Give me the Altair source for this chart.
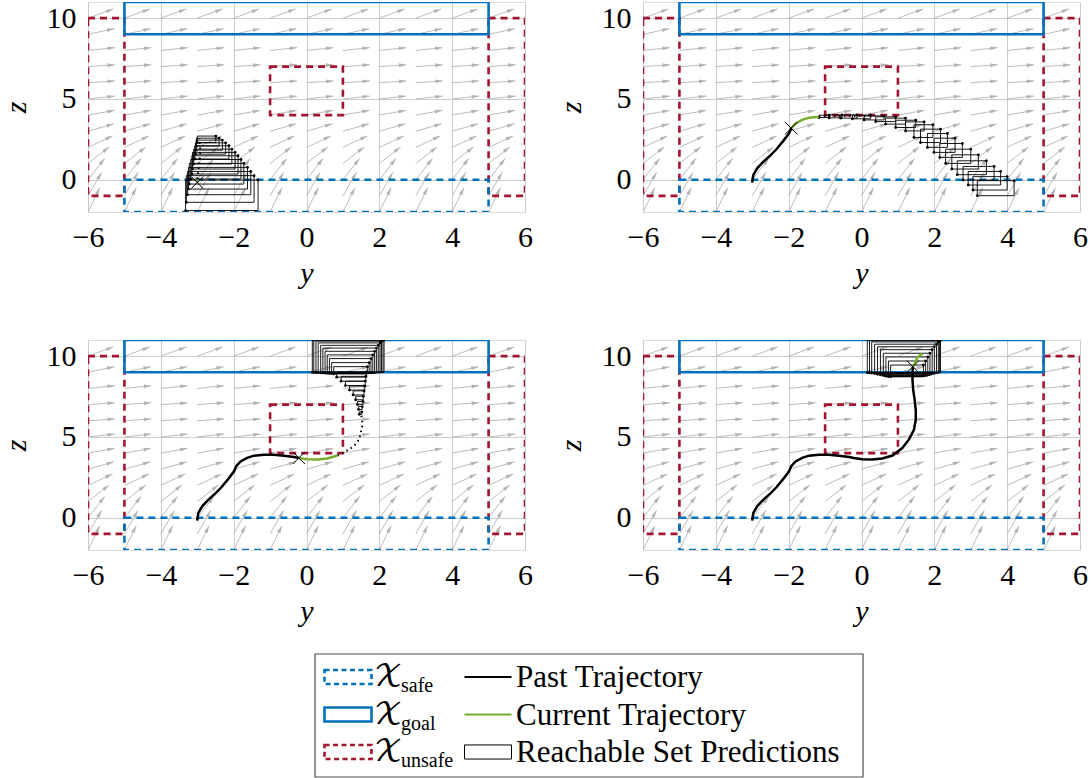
import math
import altair as alt
import pandas as pd

# ---------------- data ----------------
FIELD_Y = [-6, -5, -4, -3, -2, -1, 0, 1, 2, 3, 4, 5, 6]
FIELD_Z = [-2, -1, 0, 1, 2, 3, 4, 5, 6, 7, 8, 9, 10, 11]
FIELD_ANGLE = [64, 60, 52, 38, 25, 16, 10, 6, 4, 4, 6, 12, 20, 22]   # arrow direction per row (deg)

SET_KIND = ["safe", "goal", "unsafe", "unsafe", "unsafe"]
SET_Y0 = [-5, -5, -6, 5, -1]
SET_Y1 = [5, 5, -5, 6, 1]
SET_Z0 = [-2, 9, -1, -1, 4]
SET_Z1 = [0, 11, 10, 10, 7]

TRAJ_Y = [-3.00, -2.99, -2.97, -2.86, -2.70, -2.50, -2.33, -2.13, -1.99, -1.93,
          -1.81, -1.63, -1.44, -1.17, -0.89, -0.62, -0.34, -0.21, 0.02, 0.30,
          0.57, 0.85, 1.12, 1.30, 1.44, 1.49, 1.49, 1.46, 1.42, 1.40,
          1.40, 1.41, 1.47, 1.53, 1.67]
TRAJ_Z = [-0.18, 0.02, 0.30, 0.72, 1.10, 1.50, 1.90, 2.45, 2.87, 3.19,
          3.48, 3.70, 3.84, 3.90, 3.90, 3.84, 3.76, 3.70, 3.62, 3.60,
          3.66, 3.85, 4.31, 4.83, 5.44, 6.06, 6.67, 7.29, 7.91, 8.52,
          8.93, 9.35, 9.59, 9.92, 10.17]
PANEL_X_IDX = [0, 9, 17, 31]     # position marked with a cross
PANEL_END_IDX = [1, 13, 21, 34]  # end of the current trajectory

PRED_Y = [[-3.00, -2.97, -2.94, -2.92, -2.92, -2.95],
          [-1.17, -0.90, -0.53, -0.16, 0.20],
          [0.85, 0.94, 1.12, 1.30, 1.44, 1.49, 1.53, 1.53, 1.49],
          []]
PRED_Z = [[0.05, 0.60, 1.10, 1.60, 2.10, 2.55],
          [3.90, 3.93, 3.95, 3.95, 3.91],
          [3.85, 3.96, 4.17, 4.42, 4.83, 5.24, 5.65, 6.06, 6.47],
          []]

BOX_Y0 = [
    [-3.32, -3.30, -3.27, -3.24, -3.22, -3.18, -3.15, -3.13, -3.10, -3.07, -3.05, -3.03, -3.02, -3.00],
    [-1.17, -0.89, -0.57, -0.25, 0.07, 0.39, 0.66, 0.94, 1.21, 1.44, 1.62, 1.81, 1.99, 2.15, 2.31, 2.48, 2.63, 2.79, 2.93, 3.06, 3.18],
    [1.45, 1.43, 1.40, 1.35, 1.28, 1.18, 1.07, 0.95, 0.83, 0.75, 0.69, 0.63, 0.57, 0.51, 0.45, 0.39, 0.32, 0.26, 0.20, 0.16],
    [0.80, 0.74, 0.67, 0.60, 0.52, 0.44, 0.36, 0.28, 0.22, 0.16],
]
BOX_Y1 = [
    [-1.33, -1.44, -1.53, -1.62, -1.72, -1.80, -1.88, -1.96, -2.05, -2.13, -2.22, -2.31, -2.40, -2.49],
    [-0.89, -0.53, -0.12, 0.25, 0.62, 0.94, 1.21, 1.49, 1.72, 1.96, 2.17, 2.36, 2.57, 2.77, 3.00, 3.21, 3.43, 3.64, 3.82, 4.00, 4.19],
    [1.52, 1.53, 1.55, 1.56, 1.58, 1.60, 1.61, 1.63, 1.65, 1.67, 1.72, 1.77, 1.82, 1.87, 1.92, 1.97, 2.02, 2.06, 2.10, 2.13],
    [1.70, 1.76, 1.82, 1.88, 1.94, 2.00, 2.06, 2.11, 2.14, 2.17],
]
BOX_Z0 = [
    [-1.91, -1.40, -0.93, -0.58, -0.27, 0.04, 0.35, 0.66, 0.97, 1.28, 1.58, 1.83, 2.08, 2.30],
    [3.85, 3.83, 3.81, 3.77, 3.70, 3.60, 3.44, 3.23, 3.02, 2.61, 2.30, 2.00, 1.69, 1.38, 1.01, 0.66, 0.31, -0.02, -0.33, -0.64, -0.99],
    [6.40, 6.70, 7.00, 7.30, 7.60, 7.90, 8.18, 8.45, 8.70, 8.90, 8.92, 8.93, 8.94, 8.95, 8.96, 8.97, 8.98, 8.99, 9.00, 9.00],
    [8.72, 8.74, 8.76, 8.80, 8.84, 8.88, 8.92, 8.95, 8.97, 8.98],
]
BOX_Z1 = [
    [-0.02, 0.25, 0.51, 0.76, 1.01, 1.25, 1.48, 1.69, 1.89, 2.10, 2.28, 2.45, 2.57, 2.70],
    [3.99, 4.01, 4.01, 3.99, 3.95, 3.89, 3.81, 3.68, 3.58, 3.40, 3.13, 2.86, 2.57, 2.24, 1.89, 1.54, 1.17, 0.82, 0.51, 0.19, -0.06],
    [6.55, 6.88, 7.20, 7.52, 7.85, 8.15, 8.45, 8.75, 9.02, 9.35, 9.60, 9.85, 10.08, 10.30, 10.50, 10.67, 10.82, 10.93, 11.00, 11.00],
    [9.45, 9.70, 9.95, 10.18, 10.40, 10.58, 10.74, 10.88, 10.96, 11.00],
]

LEG_SUBS = ["safe", "goal", "unsafe"]
LEG_TEXT = ["Past Trajectory", "Current Trajectory", "Reachable Set Predictions"]

# ---------------- styling / layout ----------------
PANEL_W, PANEL_H = 437, 210
SX = PANEL_W / 12.0
SY = PANEL_H / 13.0
ARROW_PX = 27
BLUE, RED, GREEN = "#0072BD", "#A2142F", "#77AC30"
ARROW_GRAY = "#B4B4B4"
FRAME = "#4D4D4D"
FONT = "'Liberation Serif', 'Times New Roman', Times, 'DejaVu Serif', serif"
MATHFONT = "'DejaVu Math TeX Gyre', 'DejaVu Serif', serif"
HEAD = "M0,0L-1,-0.26L-1,0.26Z"
CROSS = "M-1,-1L1,1M-1,1L1,-1"
RECT_SYM = "M-1,-0.3L1,-0.3L1,0.3L-1,0.3Z"
LINE_SYM = "M-1,0L1,0"

xs = alt.Scale(domain=[-6, 6], nice=False, zero=False)
ys = alt.Scale(domain=[-2, 11], nice=False, zero=False)
MINUS = "replace(datum.label, '-', '\u2212')"

XAXIS = alt.Axis(values=[-6, -4, -2, 0, 2, 4, 6], title="y", labelExpr=MINUS,
                 labelFont=FONT, labelFontSize=30, labelColor="black", labelFlush=False,
                 labelPadding=10, labelOverlap=False,
                 titleFont=FONT, titleFontSize=30, titleFontStyle="italic", titleFontWeight="normal",
                 titleColor="black", titlePadding=6,
                 grid=True, gridColor="#CCCCCC", gridWidth=1, domain=False, ticks=False)
YAXIS = alt.Axis(values=[0, 5, 10], title="z",
                 labelFont=FONT, labelFontSize=30, labelColor="black", labelPadding=12,
                 titleFont=FONT, titleFontSize=30, titleFontStyle="italic", titleFontWeight="normal",
                 titleColor="black", titlePadding=15,
                 grid=True, gridColor="#CCCCCC", gridWidth=1, domain=False, ticks=False)

# vector field table
field_rows = []
for z, a in zip(FIELD_Z, FIELD_ANGLE):
    r = math.radians(a)
    dy = ARROW_PX * math.cos(r) / SX
    dz = ARROW_PX * math.sin(r) / SY
    for y in FIELD_Y:
        field_rows.append({"y0": y, "z0": z, "y1": y + dy, "z1": z + dz, "rot": (360 - a) % 360})
field_df = pd.DataFrame(field_rows)

sets_df = pd.DataFrame({"kind": SET_KIND, "y0": SET_Y0, "y1": SET_Y1, "z0": SET_Z0, "z1": SET_Z1})


def xq(f):
    return alt.X(f, type="quantitative", scale=xs, axis=XAXIS)


def yq(f):
    return alt.Y(f, type="quantitative", scale=ys, axis=YAXIS)


def set_layer(kind, color, dash):
    d = sets_df[sets_df.kind == kind]
    kw = dict(fillOpacity=0, stroke=color, strokeWidth=2.6, clip=True)
    if dash:
        kw["strokeDash"] = dash
    return alt.Chart(d).mark_rect(**kw).encode(x=xq("y0"), x2="y1:Q", y=yq("z0"), y2="z1:Q")


def panel(p):
    layers = []
    layers.append(alt.Chart(field_df).mark_rule(color=ARROW_GRAY, strokeWidth=0.9, clip=True).encode(
        x=xq("y0"), y=yq("z0"), x2="y1:Q", y2="z1:Q"))
    layers.append(alt.Chart(field_df).mark_point(shape=HEAD, filled=True, color=ARROW_GRAY, size=220,
                                                 opacity=1, strokeWidth=0, clip=True).encode(
        x=xq("y1"), y=yq("z1"), angle=alt.Angle("rot:Q", scale=None)))
    layers.append(set_layer("unsafe", RED, [7, 5]))
    layers.append(set_layer("safe", BLUE, [7, 5]))
    layers.append(set_layer("goal", BLUE, None))

    box_df = pd.DataFrame({"y0": BOX_Y0[p], "y1": BOX_Y1[p], "z0": BOX_Z0[p], "z1": BOX_Z1[p]})
    layers.append(alt.Chart(box_df).mark_rect(fillOpacity=0, stroke="black", strokeWidth=0.9, clip=True).encode(
        x=xq("y0"), x2="y1:Q", y=yq("z0"), y2="z1:Q"))
    corner_df = pd.DataFrame({"y": BOX_Y0[p] + BOX_Y1[p], "z": BOX_Z0[p] + BOX_Z1[p]})
    layers.append(alt.Chart(corner_df).mark_circle(size=8, color="black", opacity=1, clip=True).encode(
        x=xq("y"), y=yq("z")))
    if PRED_Y[p]:
        pred_df = pd.DataFrame({"i": list(range(len(PRED_Y[p]))), "y": PRED_Y[p], "z": PRED_Z[p]})
        layers.append(alt.Chart(pred_df).mark_line(color="black", strokeWidth=2, strokeDash=[1.5, 3.5],
                                                   clip=True).encode(x=xq("y"), y=yq("z"), order="i:Q"))

    xi, ei = PANEL_X_IDX[p], PANEL_END_IDX[p]
    if xi >= 1:
        past = pd.DataFrame({"i": list(range(xi + 1)), "y": TRAJ_Y[:xi + 1], "z": TRAJ_Z[:xi + 1]})
        layers.append(alt.Chart(past).mark_line(color="black", strokeWidth=2.5, clip=True).encode(
            x=xq("y"), y=yq("z"), order="i:Q"))
    cur = pd.DataFrame({"i": list(range(xi, ei + 1)), "y": TRAJ_Y[xi:ei + 1], "z": TRAJ_Z[xi:ei + 1]})
    layers.append(alt.Chart(cur).mark_line(color=GREEN, strokeWidth=2.5, clip=True).encode(
        x=xq("y"), y=yq("z"), order="i:Q"))
    mark_df = pd.DataFrame({"y": [TRAJ_Y[xi]], "z": [TRAJ_Z[xi]]})
    layers.append(alt.Chart(mark_df).mark_point(shape=CROSS, filled=False, stroke="black", strokeWidth=1,
                                                size=150, opacity=1, clip=True).encode(x=xq("y"), y=yq("z")))
    return alt.layer(*layers).properties(width=PANEL_W, height=PANEL_H)


# ---------------- legend ----------------
LEG_OFF = 227
LEG_W, LEG_H = 775, 123
leg_y = alt.Scale(domain=[0, 2], range=[23, 98])
rows_df = pd.DataFrame({"row": [0, 1, 2], "sub": LEG_SUBS, "txt": LEG_TEXT})
one = pd.DataFrame({"a": [0]})


def leg_sym(row, xc, shape, **style):
    d = rows_df[rows_df.row == row]
    return alt.Chart(d).mark_point(shape=shape, size=47 * 47, opacity=1, **style).encode(
        x=alt.value(xc), y=alt.Y("row:Q", scale=leg_y, axis=None))


leg_layers = [
    alt.Chart(one).mark_rect(fillOpacity=0, stroke=FRAME, strokeWidth=1.2).encode(
        x=alt.value(LEG_OFF), x2=alt.value(LEG_W), y=alt.value(0), y2=alt.value(LEG_H)),
    leg_sym(0, LEG_OFF + 33, RECT_SYM, filled=False, stroke=BLUE, strokeWidth=2.6, strokeDash=[5, 3.5]),
    leg_sym(1, LEG_OFF + 33, RECT_SYM, filled=False, stroke=BLUE, strokeWidth=2.6),
    leg_sym(2, LEG_OFF + 33, RECT_SYM, filled=False, stroke=RED, strokeWidth=2.6, strokeDash=[5, 3.5]),
    leg_sym(0, LEG_OFF + 173, LINE_SYM, filled=False, stroke="black", strokeWidth=2),
    leg_sym(1, LEG_OFF + 173, LINE_SYM, filled=False, stroke=GREEN, strokeWidth=2),
    leg_sym(2, LEG_OFF + 173, RECT_SYM, filled=False, stroke="black", strokeWidth=1),
    alt.Chart(rows_df).mark_text(text="\U0001D4B3", font=MATHFONT, fontSize=30, align="left",
                                 baseline="middle", color="black").encode(
        x=alt.value(LEG_OFF + 59), y=alt.Y("row:Q", scale=leg_y, axis=None)),
    alt.Chart(rows_df).mark_text(font=FONT, fontSize=20, align="left", baseline="middle", dy=9,
                                 color="black").encode(
        x=alt.value(LEG_OFF + 86), y=alt.Y("row:Q", scale=leg_y, axis=None), text="sub:N"),
    alt.Chart(rows_df).mark_text(font=FONT, fontSize=31, align="left", baseline="middle", dy=1,
                                 color="black").encode(
        x=alt.value(LEG_OFF + 201), y=alt.Y("row:Q", scale=leg_y, axis=None), text="txt:N"),
]
legend = alt.layer(*leg_layers).properties(width=LEG_W, height=LEG_H,
                                           view=alt.ViewBackground(stroke="transparent"))

top_row = alt.hconcat(panel(0), panel(1), spacing=22)
bottom_row = alt.hconcat(panel(2), panel(3), spacing=22)
bottom_block = alt.vconcat(bottom_row, legend, spacing=25)

chart = alt.vconcat(top_row, bottom_block, spacing=50).properties(
    padding={"left": 0, "top": 1, "right": 0, "bottom": 0}
).configure_view(stroke=FRAME, strokeWidth=1).configure(background="white")

chart.save("out.html", embed_options={"renderer": "svg", "actions": False})
